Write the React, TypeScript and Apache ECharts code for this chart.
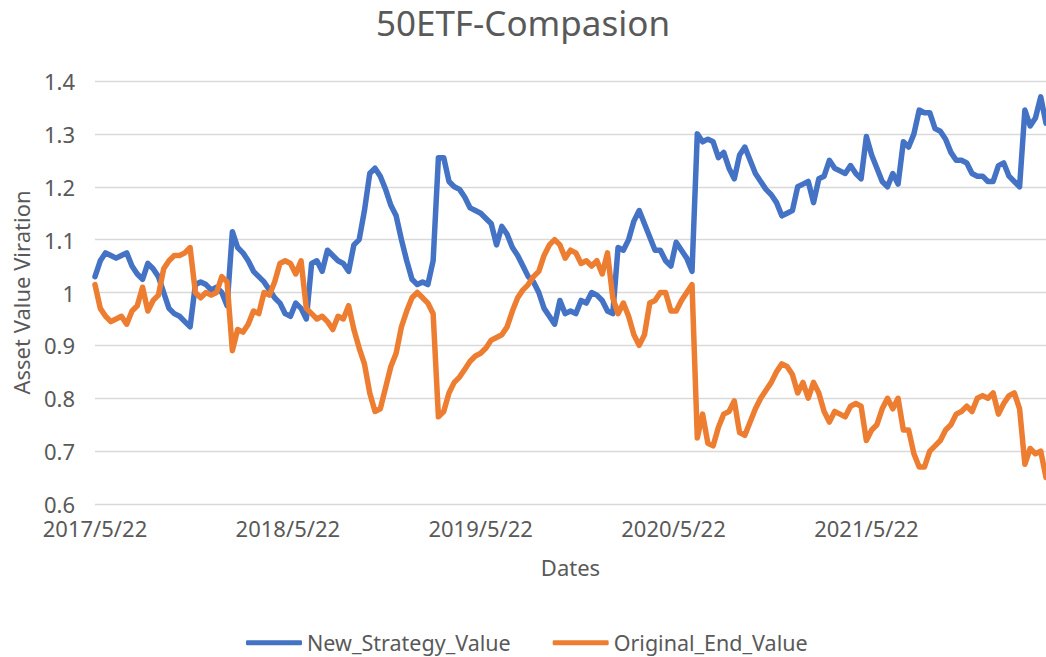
import React, { useEffect, useRef } from "react";
import * as echarts from "echarts";

const TITLE = "50ETF-Compasion";
const X_NAME = "Dates";
const Y_NAME = "Asset Value Viration";
const SERIES_NAMES = ["New_Strategy_Value", "Original_End_Value"];
const X_TICK_LABELS = ["2017/5/22", "2018/5/22", "2019/5/22", "2020/5/22", "2021/5/22"];
const DAYS_PER_YEAR = 365;
const STEP_DAYS = 10;
const X_MAX_DAYS = 1800;

const newStrategy = [
  1.03, 1.06, 1.075, 1.07, 1.065, 1.07, 1.075, 1.05, 1.035, 1.025,
  1.055, 1.045, 1.03, 1.0, 0.97, 0.96, 0.955, 0.945, 0.935, 1.015,
  1.02, 1.015, 1.005, 1.01, 1.0, 0.975, 1.115, 1.085, 1.075, 1.06,
  1.04, 1.03, 1.02, 1.005, 0.99, 0.98, 0.96, 0.955, 0.98, 0.97,
  0.95, 1.055, 1.06, 1.04, 1.08, 1.07, 1.06, 1.055, 1.04, 1.09,
  1.1, 1.155, 1.225, 1.235, 1.22, 1.195, 1.165, 1.145, 1.1, 1.06,
  1.025, 1.015, 1.02, 1.015, 1.06, 1.255, 1.255, 1.21, 1.2, 1.195,
  1.18, 1.16, 1.155, 1.15, 1.14, 1.13, 1.09, 1.125, 1.11, 1.085,
  1.07, 1.05, 1.03, 1.02, 1.0, 0.97, 0.955, 0.94, 0.985, 0.96,
  0.965, 0.96, 0.985, 0.98, 1.0, 0.995, 0.985, 0.965, 0.96, 1.085,
  1.08, 1.1, 1.135, 1.155, 1.13, 1.105, 1.08, 1.08, 1.06, 1.05,
  1.095, 1.08, 1.065, 1.04, 1.3, 1.285, 1.29, 1.285, 1.255, 1.265,
  1.235, 1.215, 1.26, 1.275, 1.25, 1.225, 1.21, 1.195, 1.185, 1.17,
  1.145, 1.15, 1.155, 1.2, 1.205, 1.21, 1.17, 1.215, 1.22, 1.25,
  1.235, 1.23, 1.225, 1.24, 1.225, 1.215, 1.295, 1.26, 1.235, 1.21,
  1.2, 1.225, 1.205, 1.285, 1.275, 1.3, 1.345, 1.34, 1.34, 1.31,
  1.305, 1.29, 1.265, 1.25, 1.25, 1.245, 1.225, 1.22, 1.22, 1.21,
  1.21, 1.24, 1.245, 1.22, 1.21, 1.2, 1.345, 1.315, 1.33, 1.37,
  1.32,
];

const originalEnd = [
  1.015, 0.97, 0.955, 0.945, 0.95, 0.955, 0.94, 0.965, 0.975, 1.01,
  0.965, 0.985, 0.995, 1.045, 1.06, 1.07, 1.07, 1.075, 1.085, 1.0,
  0.99, 1.0, 0.995, 1.0, 1.03, 1.02, 0.89, 0.93, 0.925, 0.94,
  0.965, 0.96, 1.0, 0.995, 1.02, 1.055, 1.06, 1.055, 1.035, 1.06,
  0.97, 0.96, 0.95, 0.955, 0.945, 0.93, 0.955, 0.95, 0.975, 0.93,
  0.895, 0.865, 0.81, 0.775, 0.78, 0.82, 0.86, 0.885, 0.935, 0.965,
  0.99, 1.0, 0.99, 0.98, 0.96, 0.765, 0.775, 0.81, 0.83, 0.84,
  0.855, 0.87, 0.88, 0.885, 0.895, 0.91, 0.915, 0.92, 0.935, 0.965,
  0.99, 1.005, 1.015, 1.03, 1.04, 1.07, 1.09, 1.1, 1.09, 1.065,
  1.08, 1.075, 1.055, 1.06, 1.05, 1.06, 1.035, 1.075, 0.99, 0.96,
  0.98, 0.955, 0.92, 0.9, 0.92, 0.98, 0.985, 1.0, 1.0, 0.965,
  0.965, 0.985, 1.0, 1.015, 0.725, 0.77, 0.715, 0.71, 0.745, 0.77,
  0.775, 0.795, 0.735, 0.73, 0.755, 0.78, 0.8, 0.815, 0.83, 0.85,
  0.865, 0.86, 0.845, 0.81, 0.83, 0.8, 0.83, 0.81, 0.775, 0.755,
  0.775, 0.77, 0.765, 0.785, 0.79, 0.785, 0.72, 0.74, 0.75, 0.78,
  0.8, 0.78, 0.8, 0.74, 0.74, 0.695, 0.67, 0.67, 0.7, 0.71,
  0.72, 0.74, 0.75, 0.77, 0.775, 0.785, 0.775, 0.8, 0.805, 0.8,
  0.81, 0.77, 0.79, 0.805, 0.81, 0.78, 0.675, 0.705, 0.695, 0.7,
  0.65,
];

const COLORS = ["#4472C4", "#ED7D31"];
const FONT = "'Noto Sans', 'Noto Sans CJK SC', sans-serif";
const TEXT_COLOR = "#595959";

const toPairs = (vals: number[]) => vals.map((v, i) => [i * STEP_DAYS, v]);

export default function App() {
  const ref = useRef<HTMLDivElement>(null);
  useEffect(() => {
    if (!ref.current) return;
    const chart = echarts.init(ref.current, undefined, { renderer: "svg" });
    const seriesData = [newStrategy, originalEnd];
    chart.setOption({
      animation: false,
      backgroundColor: "#ffffff",
      title: {
        text: TITLE,
        left: "center",
        top: 0,
        textStyle: { fontFamily: FONT, fontSize: 35, fontWeight: "normal", color: TEXT_COLOR },
      },
      legend: {
        left: 241,
        top: 627,
        icon: "roundRect",
        itemWidth: 56,
        itemHeight: 5,
        itemGap: 42,
        textStyle: { fontFamily: FONT, fontSize: 21.5, color: TEXT_COLOR },
        data: SERIES_NAMES,
      },
      grid: {
        left: 95,
        right: 0,
        top: 81,
        bottom: 153,
        containLabel: false,
        outerBoundsMode: "none",
      },
      xAxis: {
        type: "value",
        min: 0,
        max: X_MAX_DAYS,
        interval: DAYS_PER_YEAR,
        name: X_NAME,
        nameLocation: "middle",
        nameGap: 52,
        nameTextStyle: { fontFamily: FONT, fontSize: 22, color: TEXT_COLOR },
        axisLine: { show: false },
        axisTick: { show: false },
        splitLine: { show: false },
        axisLabel: {
          margin: 13,
          showMaxLabel: false,
          hideOverlap: false,
          fontFamily: FONT,
          fontSize: 22,
          color: TEXT_COLOR,
          formatter: (value: number) => {
            const idx = Math.round(value / DAYS_PER_YEAR);
            if (Math.abs(value - idx * DAYS_PER_YEAR) < 1 && idx < X_TICK_LABELS.length) {
              return X_TICK_LABELS[idx];
            }
            return "";
          },
        },
      },
      yAxis: {
        type: "value",
        min: 0.6,
        max: 1.4,
        interval: 0.1,
        name: Y_NAME,
        nameLocation: "middle",
        nameGap: 63,
        nameTextStyle: { fontFamily: FONT, fontSize: 22, color: TEXT_COLOR },
        axisLine: { show: false },
        axisTick: { show: false },
        splitLine: { lineStyle: { color: "#D9D9D9", width: 1.3 } },
        axisLabel: {
          margin: 20,
          fontFamily: FONT,
          fontSize: 22,
          color: TEXT_COLOR,
          formatter: (v: number) => String(+v.toFixed(1)),
        },
      },
      series: SERIES_NAMES.map((name, k) => ({
        name,
        type: "line",
        data: toPairs(seriesData[k]),
        showSymbol: false,
        symbol: "none",
        color: COLORS[k],
        lineStyle: { width: 5.5, color: COLORS[k], cap: "round", join: "round" },
      })),
    });
    return () => chart.dispose();
  }, []);
  return (
    <div
      ref={ref}
      style={{ position: "fixed", left: 0, top: 0, width: 1046, height: 657, background: "#fff" }}
    />
  );
}
